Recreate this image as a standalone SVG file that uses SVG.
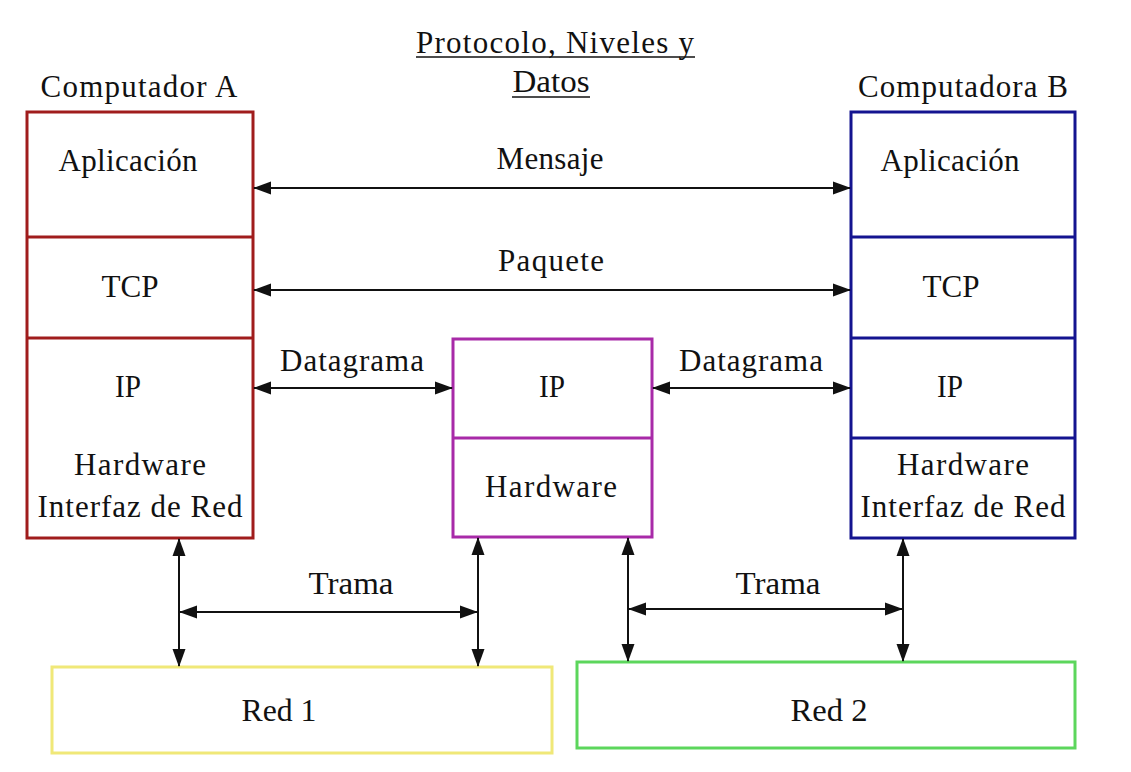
<svg xmlns="http://www.w3.org/2000/svg" width="1131" height="772" viewBox="0 0 1131 772">
<style>
text{font-family:"Liberation Serif","Times New Roman",serif;font-size:31px;fill:#111;text-anchor:middle}
.box{fill:none;stroke-width:3}
.a{stroke:#a01c1c}
.b{stroke:#141490}
.r{stroke:#a82aa8}
.y{stroke:#f0e878}
.g{stroke:#5cd65c}
.c{stroke:#111;stroke-width:2;fill:none;marker-start:url(#ah);marker-end:url(#ah)}
.u{stroke:#111;stroke-width:1.5}
</style>
<defs>
<marker id="ah" markerUnits="userSpaceOnUse" markerWidth="18" markerHeight="14" refX="17" refY="7" orient="auto-start-reverse">
<path d="M0,0.5 L18,7 L0,13.5 Z" fill="#111"/>
</marker>
</defs>
<rect width="1131" height="772" fill="#fff"/>
<g id="title">
<text x="555" y="53" textLength="278" lengthAdjust="spacing">Protocolo, Niveles y</text>
<line class="u" x1="416" y1="57" x2="695" y2="57"/>
<text x="551" y="92" textLength="77" lengthAdjust="spacingAndGlyphs">Datos</text>
<line class="u" x1="512" y1="97" x2="590" y2="97"/>
</g>
<g id="computadorA">
<text x="139" y="97" textLength="197" lengthAdjust="spacing">Computador A</text>
<rect class="box a" x="27" y="112" width="226" height="426"/>
<line class="box a" x1="27" y1="237" x2="253" y2="237"/>
<line class="box a" x1="27" y1="338" x2="253" y2="338"/>
<text x="128" y="171" textLength="139" lengthAdjust="spacing">Aplicación</text>
<text x="130" y="297" textLength="57" lengthAdjust="spacingAndGlyphs">TCP</text>
<text x="128" y="397" textLength="26" lengthAdjust="spacingAndGlyphs">IP</text>
<text x="140" y="475" textLength="132" lengthAdjust="spacing">Hardware</text>
<text x="140" y="517" textLength="205" lengthAdjust="spacing">Interfaz de Red</text>
</g>
<g id="computadoraB">
<text x="963" y="97" textLength="210" lengthAdjust="spacing">Computadora B</text>
<rect class="box b" x="851" y="112" width="224" height="426"/>
<line class="box b" x1="851" y1="237" x2="1075" y2="237"/>
<line class="box b" x1="851" y1="338" x2="1075" y2="338"/>
<line class="box b" x1="851" y1="438" x2="1075" y2="438"/>
<text x="950" y="171" textLength="139" lengthAdjust="spacing">Aplicación</text>
<text x="951" y="297" textLength="57" lengthAdjust="spacingAndGlyphs">TCP</text>
<text x="950" y="397" textLength="26" lengthAdjust="spacingAndGlyphs">IP</text>
<text x="963" y="475" textLength="132" lengthAdjust="spacing">Hardware</text>
<text x="963" y="517" textLength="205" lengthAdjust="spacing">Interfaz de Red</text>
</g>
<g id="router">
<rect class="box r" x="453" y="339" width="199" height="198"/>
<line class="box r" x1="453" y1="438" x2="652" y2="438"/>
<text x="552" y="397" textLength="26" lengthAdjust="spacingAndGlyphs">IP</text>
<text x="551" y="497" textLength="132" lengthAdjust="spacing">Hardware</text>
</g>
<g id="red1">
<rect class="box y" x="52" y="667" width="500" height="86"/>
<text x="279" y="721" textLength="75" lengthAdjust="spacingAndGlyphs">Red 1</text>
</g>
<g id="red2">
<rect class="box g" x="577" y="662" width="498" height="86"/>
<text x="829" y="721" textLength="77" lengthAdjust="spacingAndGlyphs">Red 2</text>
</g>
<g id="connectors">
<path class="c" d="M254,188 H850"/>
<text x="550" y="169" textLength="107" lengthAdjust="spacing">Mensaje</text>
<path class="c" d="M254,290 H850"/>
<text x="551" y="271" textLength="106" lengthAdjust="spacing">Paquete</text>
<path class="c" d="M254,388 H452"/>
<text x="352" y="371" textLength="144" lengthAdjust="spacing">Datagrama</text>
<path class="c" d="M653,388 H850"/>
<text x="751" y="371" textLength="144" lengthAdjust="spacing">Datagrama</text>
<path class="c" d="M179,539 V666"/>
<path class="c" d="M478,538 V666"/>
<path class="c" d="M180,612 H477"/>
<text x="351" y="594" textLength="85" lengthAdjust="spacingAndGlyphs">Trama</text>
<path class="c" d="M628,538 V661"/>
<path class="c" d="M903,539 V661"/>
<path class="c" d="M629,609 H902"/>
<text x="778" y="594" textLength="85" lengthAdjust="spacingAndGlyphs">Trama</text>
</g>
</svg>
